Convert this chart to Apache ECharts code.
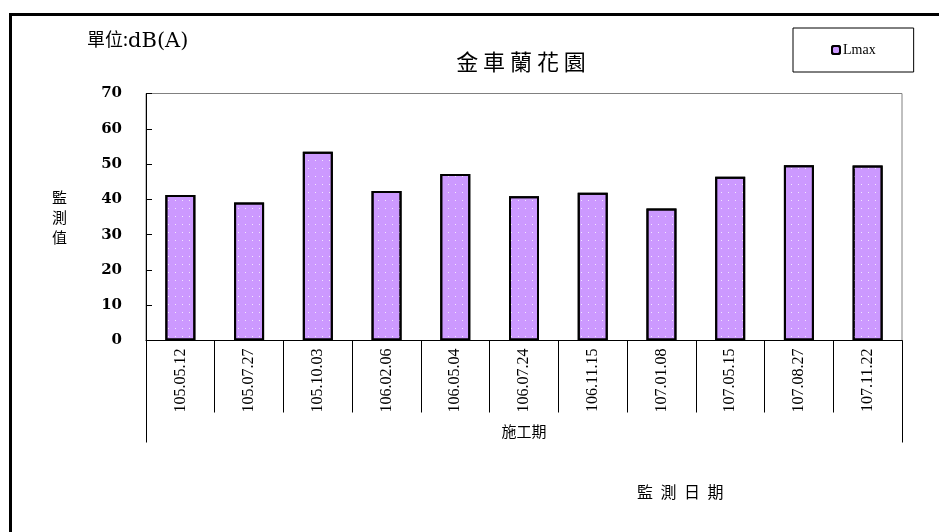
<!DOCTYPE html>
<html><head><meta charset="utf-8">
<script src="https://cdn.jsdelivr.net/npm/echarts@6/dist/echarts.min.js"></script>
<style>html,body{margin:0;padding:0;background:#fff}#c{width:939px;height:532px}</style>
</head><body><div id="c"></div>
<script>
const categories = ['105.05.12','105.07.27','105.10.03','106.02.06','106.05.04','106.07.24','106.11.15','107.01.08','107.05.15','107.08.27','107.11.22'];
const lmaxValues = [41.2, 39.1, 53.5, 42.4, 47.2, 40.9, 41.9, 37.4, 46.4, 49.7, 49.6];
const groupLabels = ['施工期'];
const yTicks = {min: 0, max: 70, interval: 10};
const xTitleChars = ['監', '測', '日', '期'];

const chart = echarts.init(document.getElementById('c'), null, {renderer: 'canvas'});
chart.setOption({
  animation: false,
  backgroundColor: '#fff',
  title: {
    text: '金 車 蘭 花 園', left: 516, top: 46, textAlign: 'center',
    textStyle: {fontFamily: 'Noto Sans CJK TC', fontSize: 22, fontWeight: 'normal', color: '#000'}
  },
  legend: {
    data: ['Lmax'], left: 793, top: 28, orient: 'horizontal',
    padding: [15, 38, 15, 38], borderColor: '#000', borderWidth: 1,
    itemWidth: 8, itemHeight: 8, itemGap: 4,
    textStyle: {fontFamily: 'Liberation Serif', fontSize: 14, color: '#000', padding: [0, 0, 0, -2]}
  },
  grid: {left: 146, right: 37, top: 93.5, bottom: 191.5, show: true, borderColor: '#808080', borderWidth: 1},
  xAxis: [{
    type: 'category', data: categories, position: 'bottom',
    axisLine: {lineStyle: {color: '#000', width: 1}},
    axisTick: {show: true, interval: 0, length: 72, lineStyle: {color: '#000'}},
    axisLabel: {interval: 0, rotate: 90, margin: 8, fontFamily: 'Liberation Serif', fontSize: 16, color: '#000'}
  }, {
    type: 'category', data: groupLabels, position: 'bottom', gridIndex: 0,
    axisLine: {show: false},
    axisTick: {show: true, length: 102, lineStyle: {color: '#000'}},
    axisLabel: {margin: 83, fontFamily: 'Noto Sans CJK TC', fontSize: 15, color: '#000'}
  }],
  yAxis: {
    type: 'value', min: yTicks.min, max: yTicks.max, interval: yTicks.interval,
    name: '監\n測\n值', nameLocation: 'middle', nameRotate: 0, nameGap: 79,
    nameTextStyle: {fontFamily: 'Noto Sans CJK TC', fontSize: 15, color: '#000', lineHeight: 20},
    axisLine: {show: true, lineStyle: {color: '#000'}},
    axisTick: {show: true, inside: true, length: 6, lineStyle: {color: '#000'}},
    splitLine: {show: false},
    axisLabel: {margin: 24, fontFamily: 'DejaVu Serif', fontWeight: 'bold', fontSize: 15, color: '#000'}
  },
  series: [{
    name: 'Lmax', type: 'bar', data: lmaxValues, barWidth: 30, xAxisIndex: 0,
    itemStyle: {
      color: '#cc99ff', borderColor: '#000', borderWidth: 2,
      decal: {symbol: 'rect', symbolSize: 1, color: 'rgba(255,255,255,0.75)', dashArrayX: [1, 6], dashArrayY: [1, 7], rotation: 0}
    }
  }],
  graphic: [
    {type: 'rect', shape: {x: 10.5, y: 14.5, width: 940, height: 530}, style: {fill: 'none', stroke: '#000', lineWidth: 3}},
    {type: 'text', left: 87, top: 30, style: {text: '單位:', font: '18px "Noto Sans CJK TC"', fill: '#000'}},
    {type: 'text', left: 128, top: 31, style: {text: 'dB(A)', font: '21px "DejaVu Serif"', fill: '#000'}}
  ].concat(xTitleChars.map((ch, i) => ({
    type: 'text', left: 637 + i * 23.5, top: 484, style: {text: ch, font: '16px "Noto Sans CJK TC"', fill: '#000'}
  })))
});
</script></body></html>
